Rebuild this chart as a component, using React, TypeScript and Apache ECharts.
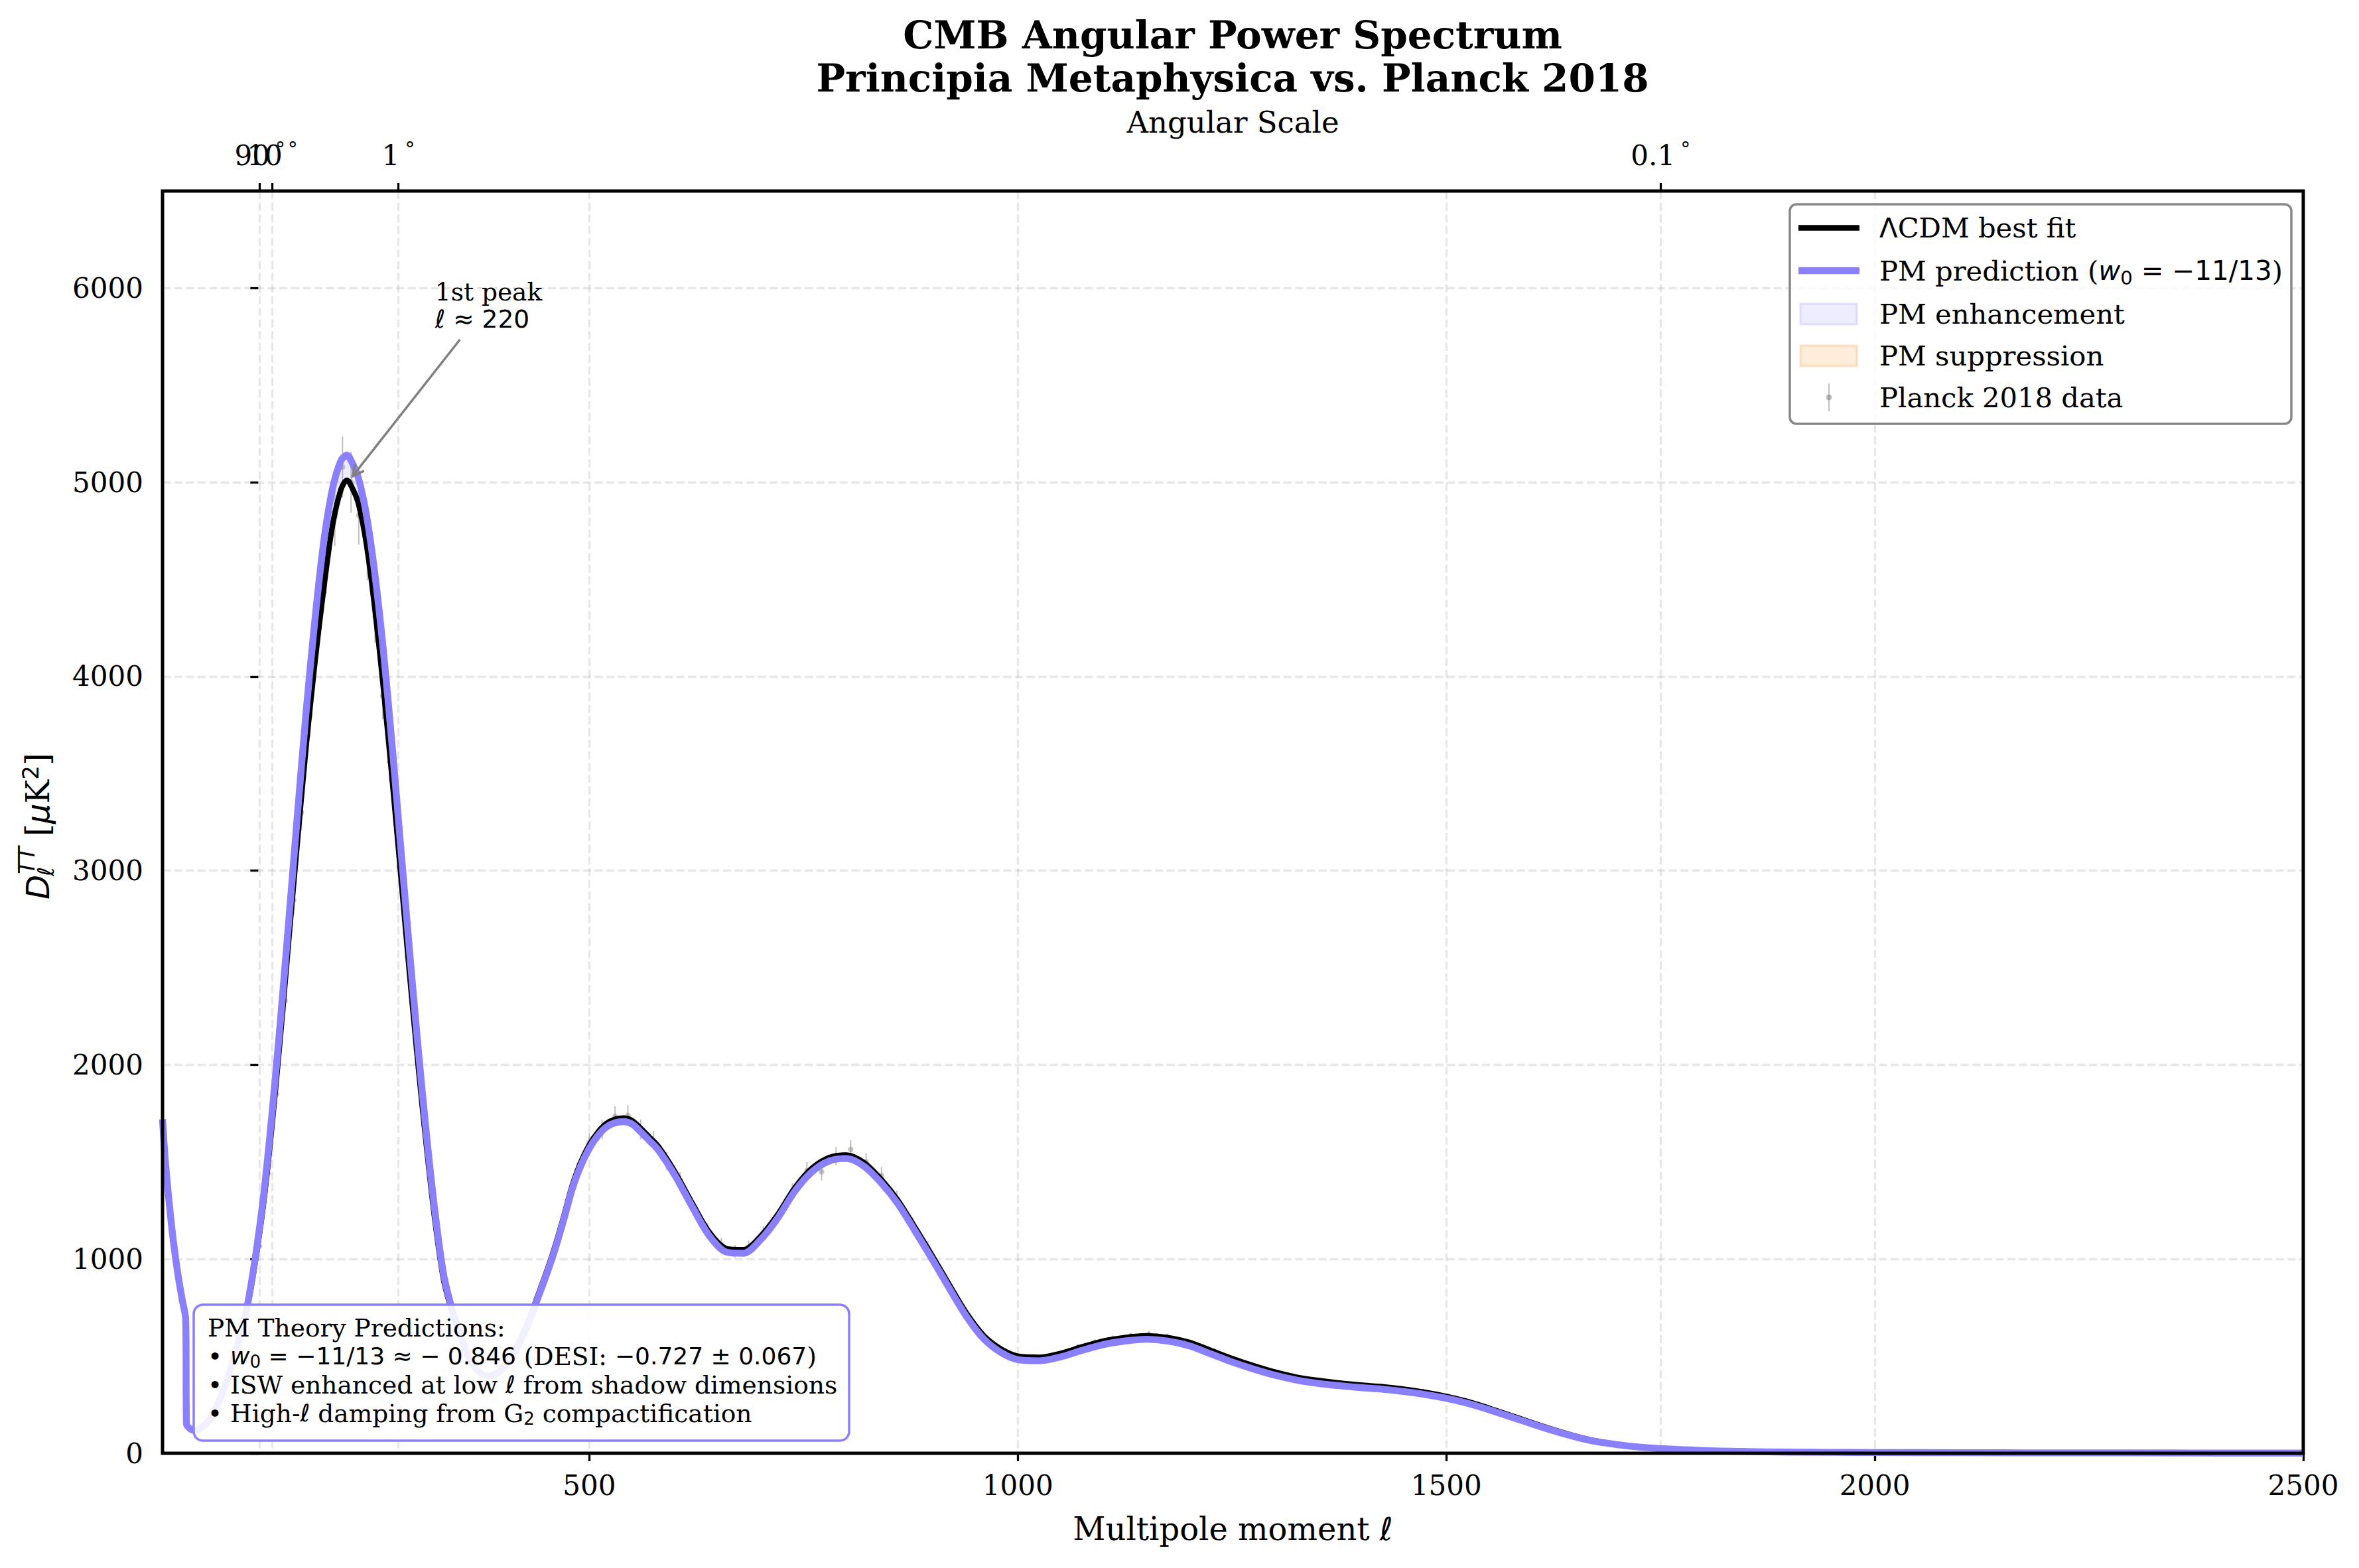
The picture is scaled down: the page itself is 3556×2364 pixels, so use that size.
import React, { useEffect, useRef } from 'react';
import * as echarts from 'echarts';

// ---------------- data ----------------
const ELL = [2, 5, 10, 15, 20, 25, 29, 30, 35, 40,
  50, 60, 70, 80, 90, 100, 110, 120, 130, 140,
  150, 160, 170, 180, 190, 200, 210, 217, 220, 230,
  240, 250, 260, 270, 280, 290, 300, 310, 320, 330,
  340, 350, 360, 370, 380, 390, 400, 410, 420, 430,
  440, 450, 460, 470, 480, 490, 500, 510, 520, 530,
  540, 550, 560, 570, 580, 600, 620, 640, 660, 680,
  700, 720, 740, 760, 780, 800, 820, 840, 860, 880,
  900, 920, 940, 960, 980, 1000, 1025, 1050, 1075, 1100,
  1125, 1150, 1175, 1200, 1225, 1250, 1275, 1300, 1325, 1350,
  1375, 1400, 1425, 1450, 1475, 1500, 1525, 1550, 1575, 1600,
  1625, 1650, 1675, 1700, 1725, 1750, 1800, 1850, 1900, 2000,
  2100, 2200, 2300, 2400, 2500];

const D_PM = [1720, 1520, 1280, 1080, 920, 790, 690, 150, 124, 118,
  140, 196, 290, 415, 565, 740, 1000, 1330, 1760, 2250,
  2780, 3320, 3840, 4300, 4690, 4960, 5110, 5140, 5130, 5030,
  4830, 4520, 4120, 3640, 3120, 2600, 2100, 1640, 1240, 920,
  740, 600, 490, 425, 400, 405, 440, 500, 580, 680,
  800, 920, 1050, 1200, 1360, 1480, 1570, 1635, 1680, 1702,
  1708, 1695, 1655, 1610, 1565, 1430, 1270, 1120, 1036, 1030,
  1100, 1212, 1350, 1450, 1505, 1518, 1480, 1395, 1285, 1145,
  1000, 850, 705, 590, 520, 482, 476, 496, 530, 560,
  578, 587, 578, 553, 512, 470, 434, 402, 377, 360,
  348, 338, 330, 318, 303, 283, 257, 224, 188, 151,
  116, 85, 60, 44, 32, 24, 14, 9, 6, 4,
  3, 2, 2, 1, 1];

const D_LCDM = [1705, 1505, 1268, 1070, 912, 783, 684, 148, 123, 117,
  139, 194, 287, 410, 558, 728, 980, 1290, 1700, 2170,
  2680, 3180, 3660, 4080, 4450, 4770, 4960, 5010, 5000, 4900,
  4680, 4340, 3930, 3470, 2980, 2480, 2010, 1580, 1195, 893,
  725, 592, 486, 424, 400, 408, 446, 508, 590, 692,
  813, 934, 1066, 1217, 1377, 1498, 1588, 1653, 1698, 1720,
  1726, 1713, 1673, 1628, 1583, 1448, 1288, 1138, 1054, 1048,
  1118, 1230, 1368, 1468, 1523, 1536, 1498, 1413, 1303, 1163,
  1018, 868, 722, 607, 538, 500, 494, 514, 548, 578,
  596, 605, 596, 571, 530, 488, 451, 418, 392, 375,
  362, 351, 343, 330, 314, 293, 266, 232, 195, 157,
  121, 89, 63, 46, 33, 25, 15, 9, 6, 4,
  3, 2, 2, 1, 1];

const DATA_ELL = [4, 8, 12, 16, 20, 24, 28,
  35, 45, 55, 65, 75, 85, 95, 105, 115, 125, 135, 145, 155,
  164, 174, 184, 193, 203, 212, 222, 231, 241, 250,
  259, 267, 278, 288, 298, 307, 316, 326, 336, 346,
  356, 368, 380, 392, 405, 418, 431, 444, 458, 472,
  486, 500, 515, 530, 545, 560, 575, 590, 606, 622,
  638, 654, 670, 686, 703, 720, 737, 754, 771, 788,
  805, 823, 841, 859, 877, 895, 914, 933, 952, 971,
  990, 1010, 1030, 1050, 1070, 1090, 1111, 1132, 1153, 1174,
  1196, 1218, 1240, 1262, 1284, 1307, 1330, 1353, 1376, 1400,
  1424, 1448, 1472, 1497, 1522, 1547, 1572, 1598, 1624, 1650,
  1676, 1703, 1730, 1757, 1784, 1812, 1840, 1868, 1896, 1925,
  1954, 1983, 2012, 2042, 2072, 2102, 2132, 2163, 2194, 2225,
  2256, 2288, 2320, 2352, 2384, 2417, 2450, 2483];

const DATA_D = [1580, 1330, 1200, 1030, 925, 790, 712,
  128, 122, 168, 238, 352, 480, 648, 852, 1066, 1440, 1850, 2330, 2850,
  3300, 3800, 4290, 4566, 4822, 5079, 5000, 4829, 4640, 4310,
  3900, 3560, 3020, 2560, 2080, 1690, 1330, 1010, 790, 640,
  505, 432, 396, 414, 468, 575, 705, 862, 1040, 1248,
  1455, 1600, 1668, 1735, 1740, 1668, 1610, 1505, 1405, 1262,
  1150, 1075, 1040, 1062, 1135, 1218, 1350, 1455, 1450, 1530,
  1565, 1500, 1430, 1312, 1180, 1060, 905, 750, 640, 565,
  512, 492, 490, 508, 545, 570, 588, 604, 612, 598,
  572, 540, 500, 465, 438, 410, 385, 372, 360, 352,
  345, 333, 318, 294, 270, 236, 200, 160, 124, 91,
  64, 45, 33, 24, 19, 14, 11, 9, 7, 6,
  5, 4, 4, 3, 3, 3, 2, 2, 2, 2,
  2, 2, 2, 1, 1, 1, 1, 1];

const DATA_ERR = [80, 70, 60, 52, 46, 40, 36,
  12, 12, 12, 14, 16, 18, 22, 28, 34, 42, 52, 62, 78,
  95, 110, 125, 140, 150, 157, 157, 150, 145, 135,
  120, 105, 92, 78, 64, 52, 42, 34, 27, 22,
  18, 15, 14, 14, 16, 18, 22, 26, 32, 38,
  44, 48, 50, 52, 53, 51, 49, 46, 43, 38,
  35, 33, 32, 33, 35, 38, 41, 45, 45, 47,
  48, 46, 44, 41, 36, 32, 28, 24, 20, 18,
  16, 15, 15, 16, 16, 17, 18, 18, 18, 18,
  17, 16, 15, 14, 13, 12, 12, 11, 11, 11,
  10, 10, 10, 9, 8, 7, 6, 5, 4, 3,
  2, 2, 1, 1, 1, 1, 1, 1, 1, 1,
  1, 1, 1, 1, 1, 1, 1, 1, 1, 1,
  1, 1, 1, 1, 1, 1, 1, 1];

const X_TICKS = [500, 1000, 1500, 2000, 2500];
const Y_TICKS = [0, 1000, 2000, 3000, 4000, 5000, 6000];
// top (angular scale) axis: ell = 180/theta
const TOP_TICK_ELL = [2, 180, 1800];
const TOP_TICK_LABELS = ['90', '1', '0.1'];
const TOP_TICK_ELL_B = [18];          // drawn on a twin axis so the overlapping labels both show
const TOP_TICK_LABELS_B = ['10'];
const TOP_MIN = -122.9;
const TOP_MAX = 2624.9;

// annotation anchors (data space): arrow tip, arrow start, text baseline
const ANNOT = [[220, 5010, 349, 5735, 320, 5800]];

// ---------------- styles ----------------
const PM_COLOR = '#8A80FE';
const SERIF = "'DejaVu Serif', serif";
const SANS = "'DejaVu Sans', sans-serif";
const GRID_LINE = { show: true, lineStyle: { color: '#b0b0b0', opacity: 0.3, width: 3.3, type: [12.3, 5.3] } };
const TICK = { show: true, length: 12, lineStyle: { color: '#000', width: 3.3 } };

function richSet(fs: number, lh: number, mathScale = 1) {
  return {
    s: { fontFamily: SERIF, fontSize: fs, color: '#000', lineHeight: lh },
    m: { fontFamily: SANS, fontSize: fs * mathScale, color: '#000', lineHeight: lh },
    mi: { fontFamily: SANS, fontStyle: 'italic', fontSize: fs * mathScale, color: '#000', lineHeight: lh },
    sub: { fontFamily: SANS, fontSize: fs * 0.7, color: '#000', verticalAlign: 'bottom', lineHeight: lh * 0.48 },
  };
}

const TOP_RICH = {
  n: { fontFamily: SERIF, fontSize: 42, color: '#000', lineHeight: 50 },
  d: { fontFamily: SANS, fontSize: 30, color: '#000', verticalAlign: 'top', lineHeight: 34, padding: [0, 0, 0, 8] },
};

function topAxis(ticks: number[], labels: string[], withName: boolean) {
  return {
    type: 'value', position: 'top', min: TOP_MIN, max: TOP_MAX, gridIndex: 0,
    axisLine: { show: false },
    axisTick: { ...TICK, customValues: ticks },
    axisLabel: {
      customValues: ticks, hideOverlap: false, margin: 29,
      showMinLabel: true, showMaxLabel: true,
      formatter: (v: number) => `{n|${labels[ticks.indexOf(v)]}}{d|°}`,
      rich: TOP_RICH,
    },
    splitLine: GRID_LINE,
    name: withName ? 'Angular Scale' : '',
    nameLocation: 'middle', nameGap: 79, nameMoveOverlap: false,
    nameTextStyle: { fontFamily: SERIF, fontSize: 45, lineHeight: 50, color: '#000' },
  };
}

export default function App() {
  const ref = useRef<HTMLDivElement>(null);
  useEffect(() => {
    const chart = echarts.init(ref.current as HTMLDivElement, null, { renderer: 'svg' });

    const lcdmPts = ELL.map((l, i) => [l, D_LCDM[i]]);
    const pmPts = ELL.map((l, i) => [l, D_PM[i]]);
    const errPts = DATA_ELL.map((l, i) => [l, DATA_D[i] - DATA_ERR[i], DATA_D[i] + DATA_ERR[i]]);
    const dataPts = DATA_ELL.map((l, i) => [l, DATA_D[i]]);

    const lineBase = { type: 'line', symbol: 'none', showSymbol: false, smooth: 0.3, silent: true };

    // band between two curves, drawn as one polygon through the axis scales
    const band = (name: string, color: string, upper: (i: number) => number, lower: (i: number) => number) => ({
      type: 'custom', name, z: 2, silent: true,
      encode: { x: 0, y: 1 },
      data: [[ELL[0], D_LCDM[0]]],
      renderItem: (params: any, api: any) => {
        const top = ELL.map((l, i) => api.coord([l, upper(i)]));
        const bot = ELL.map((l, i) => api.coord([l, lower(i)])).reverse();
        return { type: 'polygon', shape: { points: top.concat(bot) }, style: { fill: color } };
      },
    });

    const legendX = 2698, legendY = 308;
    const rowY = [343.5, 408, 473.5, 536.5, 599];
    const legRich = richSet(41.7, 50, 0.97);

    const option: any = {
      animation: false,
      backgroundColor: '#ffffff',
      textStyle: { fontFamily: SERIF },
      title: {
        text: 'CMB Angular Power Spectrum\nPrincipia Metaphysica vs. Planck 2018',
        left: 1858,
        top: 20,
        padding: 0,
        textAlign: 'center',
        textStyle: { fontFamily: SERIF, fontWeight: 'bold', fontSize: 58, lineHeight: 65, color: '#000' },
      },
      grid: {
        left: 245, right: 84, top: 288, bottom: 173,
        show: true, borderColor: '#000', borderWidth: 5, backgroundColor: 'transparent',
        z: 10, containLabel: false, outerBoundsMode: 'none',
      },
      xAxis: [
        {
          type: 'value', position: 'bottom', min: 2, max: 2500,
          axisLine: { show: false },
          axisTick: { ...TICK, customValues: X_TICKS },
          axisLabel: {
            customValues: X_TICKS, formatter: (v: number) => String(v),
            showMinLabel: true, showMaxLabel: true,
            fontFamily: SERIF, fontSize: 42, color: '#000', margin: 23, lineHeight: 50, hideOverlap: false,
          },
          splitLine: GRID_LINE,
          name: '{a|Multipole moment }{b|ℓ}',
          nameLocation: 'middle', nameGap: 86, nameMoveOverlap: false,
          nameTextStyle: {
            rich: {
              a: { fontFamily: SERIF, fontSize: 48, lineHeight: 56, color: '#000' },
              b: { fontFamily: SANS, fontStyle: 'italic', fontSize: 48, lineHeight: 56, color: '#000' },
            },
          },
        },
        topAxis(TOP_TICK_ELL, TOP_TICK_LABELS, true),
        topAxis(TOP_TICK_ELL_B, TOP_TICK_LABELS_B, false),
      ],
      yAxis: {
        type: 'value', min: 0, max: 6500,
        axisLine: { show: false },
        axisTick: { ...TICK, customValues: Y_TICKS },
        axisLabel: {
          customValues: Y_TICKS, formatter: (v: number) => String(v),
          showMinLabel: true, showMaxLabel: true,
          fontFamily: SERIF, fontSize: 42, color: '#000', margin: 29,
        },
        splitLine: GRID_LINE,
        nameMoveOverlap: false,
      },
      series: [
        {
          type: 'custom', name: 'Planck 2018 data errors', z: 1, silent: true,
          encode: { x: 0, y: [1, 2] },
          data: errPts,
          renderItem: (params: any, api: any) => {
            const x = api.value(0);
            const p1 = api.coord([x, api.value(1)]);
            const p2 = api.coord([x, api.value(2)]);
            return {
              type: 'line',
              shape: { x1: p1[0], y1: p1[1], x2: p2[0], y2: p2[1] },
              style: { stroke: 'rgba(128,128,128,0.5)', lineWidth: 2 },
            };
          },
        },
        {
          type: 'scatter', name: 'Planck 2018 data', z: 1, silent: true,
          symbol: 'circle', symbolSize: 8.5,
          itemStyle: { color: 'rgba(128,128,128,0.55)' },
          data: dataPts,
        },
        band('PM enhancement', 'rgba(138,128,255,0.15)',
          (i) => Math.max(D_PM[i], D_LCDM[i]), (i) => D_LCDM[i]),
        band('PM suppression', 'rgba(255,127,14,0.15)',
          (i) => Math.max(D_PM[i], D_LCDM[i]), (i) => D_PM[i]),
        {
          ...lineBase, name: 'ΛCDM best fit', z: 3, data: lcdmPts,
          lineStyle: { color: '#000', width: 8.3, join: 'round' },
        },
        {
          ...lineBase, name: 'PM prediction', z: 4, data: pmPts,
          lineStyle: { color: PM_COLOR, width: 10.4, join: 'round' },
        },
        {
          type: 'custom', name: 'annotation', z: 5, silent: true,
          encode: { x: [0, 2, 4], y: [1, 3, 5] },
          data: ANNOT,
          renderItem: (params: any, api: any) => {
            const tip = api.coord([api.value(0), api.value(1)]);
            const st = api.coord([api.value(2), api.value(3)]);
            const tx = api.coord([api.value(4), api.value(5)]);
            const dx = tip[0] - st[0];
            const dy = tip[1] - st[1];
            const len = Math.hypot(dx, dy);
            const ux = dx / len, uy = dy / len;
            const ex = tip[0] - ux * 8, ey = tip[1] - uy * 8;
            const hl = 17, hw = 8.5;
            const p1 = [ex - ux * hl - uy * hw, ey - uy * hl + ux * hw];
            const p2 = [ex - ux * hl + uy * hw, ey - uy * hl - ux * hw];
            return {
              type: 'group',
              children: [
                { type: 'line', shape: { x1: st[0], y1: st[1], x2: ex, y2: ey }, style: { stroke: '#808080', lineWidth: 3.5 } },
                { type: 'polyline', shape: { points: [p1, [ex, ey], p2] }, style: { stroke: '#808080', lineWidth: 3.5, fill: 'none' } },
                {
                  type: 'text', x: tx[0], y: tx[1] + 9,
                  style: {
                    text: '{s|1st peak}\n{mi|ℓ}{m| ≈ 220}',
                    rich: richSet(37.5, 41),
                    align: 'left', verticalAlign: 'bottom',
                  },
                },
              ],
            };
          },
        },
      ],
      graphic: [
        // y-axis label (rotated)
        {
          type: 'group', x: 57, y: 1241, rotation: Math.PI / 2, z: 30,
          children: [
            { type: 'text', x: -115, y: 0, style: { text: 'D', fontFamily: SANS, fontStyle: 'italic', fontSize: 48, fill: '#000', align: 'left', verticalAlign: 'middle' } },
            { type: 'text', x: -77, y: -17, style: { text: 'TT', fontFamily: SANS, fontStyle: 'italic', fontSize: 34, fill: '#000', align: 'left', verticalAlign: 'middle' } },
            { type: 'text', x: -80, y: 12, style: { text: 'ℓ', fontFamily: SANS, fontStyle: 'italic', fontSize: 34, fill: '#000', align: 'left', verticalAlign: 'middle' } },
            {
              type: 'text', x: -35, y: 0,
              style: {
                text: '{s| [}{mi|μ}{s|K}{sup|2}{s|]}',
                align: 'left', verticalAlign: 'middle',
                rich: {
                  s: { fontFamily: SERIF, fontSize: 48, color: '#000', lineHeight: 56 },
                  mi: { fontFamily: SANS, fontStyle: 'italic', fontSize: 48, color: '#000', lineHeight: 56 },
                  sup: { fontFamily: SANS, fontSize: 34, color: '#000', verticalAlign: 'top', lineHeight: 30 },
                },
              },
            },
          ],
        },
        // legend frame
        {
          type: 'rect', z: 40,
          shape: { x: legendX, y: legendY, width: 756, height: 331, r: 10 },
          style: { fill: 'rgba(255,255,255,0.8)', stroke: '#888888', lineWidth: 3.5 },
        },
        { type: 'line', z: 41, shape: { x1: 2711, y1: rowY[0], x2: 2803, y2: rowY[0] }, style: { stroke: '#000', lineWidth: 8.3 } },
        { type: 'line', z: 41, shape: { x1: 2711, y1: rowY[1], x2: 2803, y2: rowY[1] }, style: { stroke: PM_COLOR, lineWidth: 10.4 } },
        { type: 'rect', z: 41, shape: { x: 2714, y: rowY[2] - 15.5, width: 85, height: 31 }, style: { fill: 'rgba(138,128,255,0.15)', stroke: 'rgba(138,128,255,0.22)', lineWidth: 3 } },
        { type: 'rect', z: 41, shape: { x: 2714, y: rowY[3] - 15.5, width: 85, height: 31 }, style: { fill: 'rgba(255,127,14,0.15)', stroke: 'rgba(255,127,14,0.22)', lineWidth: 3 } },
        { type: 'line', z: 41, shape: { x1: 2757, y1: rowY[4] - 21, x2: 2757, y2: rowY[4] + 21 }, style: { stroke: 'rgba(128,128,128,0.5)', lineWidth: 2 } },
        { type: 'circle', z: 41, shape: { cx: 2757, cy: rowY[4], r: 4.3 }, style: { fill: 'rgba(128,128,128,0.55)' } },
        { type: 'text', z: 41, x: 2833, y: rowY[0], style: { text: '{m|Λ}{s|CDM best fit}', rich: legRich, align: 'left', verticalAlign: 'middle' } },
        { type: 'text', z: 41, x: 2833, y: rowY[1], style: { text: '{s|PM prediction (}{mi|w}{sub|0}{m| = −11/13}{s|)}', rich: legRich, align: 'left', verticalAlign: 'middle' } },
        { type: 'text', z: 41, x: 2833, y: rowY[2], style: { text: '{s|PM enhancement}', rich: legRich, align: 'left', verticalAlign: 'middle' } },
        { type: 'text', z: 41, x: 2833, y: rowY[3], style: { text: '{s|PM suppression}', rich: legRich, align: 'left', verticalAlign: 'middle' } },
        { type: 'text', z: 41, x: 2833, y: rowY[4], style: { text: '{s|Planck 2018 data}', rich: legRich, align: 'left', verticalAlign: 'middle' } },
        // PM theory text box
        {
          type: 'rect', z: 40,
          shape: { x: 292, y: 1967, width: 988, height: 205, r: 14 },
          style: { fill: 'rgba(255,255,255,0.88)', stroke: PM_COLOR, lineWidth: 3.5 },
        },
        {
          type: 'text', z: 41, x: 313, y: 1980,
          style: {
            text: [
              '{s|PM Theory Predictions:}',
              '{s|• }{mi|w}{sub|0}{m| = −11/13 ≈ − 0.846}{s| (DESI: }{m|−0.727 ± 0.067}{s|)}',
              '{s|• ISW enhanced at low }{mi|ℓ}{s| from shadow dimensions}',
              '{s|• High-}{mi|ℓ}{s| damping from G}{sub|2}{s| compactification}',
            ].join('\n'),
            rich: richSet(37.5, 43, 0.96),
            align: 'left', verticalAlign: 'top',
          },
        },
      ],
    };

    chart.setOption(option);
    return () => chart.dispose();
  }, []);

  return (
    <div
      ref={ref}
      style={{ position: 'absolute', left: 0, top: 0, width: 3556, height: 2364, background: '#fff' }}
    />
  );
}
